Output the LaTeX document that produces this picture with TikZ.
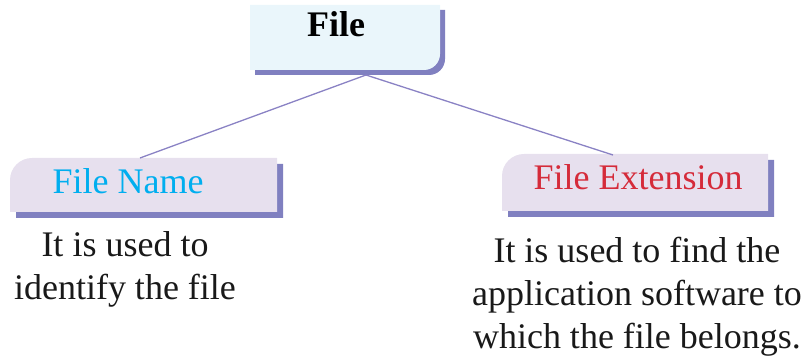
\documentclass[tikz,border=0pt]{standalone}
\usepackage{fontspec}
\setmainfont{Liberation Serif}
\usepackage{xcolor}
\usepackage{tikz}
\usetikzlibrary{calc,positioning}

\definecolor{topfill}{HTML}{EAF6FB}
\definecolor{subfill}{HTML}{E7E0EE}
\definecolor{dropcol}{HTML}{8080C0}
\definecolor{link}{HTML}{8A82C4}
\definecolor{namecol}{HTML}{00AEEF}
\definecolor{extcol}{HTML}{D52B3A}

\begin{document}
\begin{tikzpicture}[
    x=1pt,y=1pt,
    big/.style={font=\fontsize{36}{43}\selectfont,inner sep=0pt},
    head/.style={big,anchor=base},
    note/.style={big,align=center,anchor=north,text=black!90}
  ]
  \useasboundingbox (0,0) rectangle (811,358);
  % File box and its shadow
  \foreach \dx/\dy/\col in {5/-5/dropcol,0/0/topfill}
  \fill [\col,shift={(\dx,\dy)}] (250,353) -- (440,353) -- (440,304)
    arc [start angle=0,end angle=-90,radius=16] -- (250,288) -- cycle;
  % the two lower boxes
  \foreach \dx/\dy/\col in {6/-6/dropcol,0/0/subfill} {
    \fill [\col,shift={(\dx,\dy)}] (10,146) -- (277,146) -- (277,200) -- (32,200)
      arc [start angle=90,end angle=180,radius=22] -- cycle;
    \fill [\col,shift={(\dx,\dy)}] (502,147) -- (768,147) -- (768,204) -- (524,204)
      arc [start angle=90,end angle=180,radius=22] -- cycle;
  }
  \coordinate (fileB) at (366,283);
  \coordinate (nameT) at (140,200);
  \coordinate (extT) at (613,203);
  \draw [link,line width=1.3pt] (nameT) -- (fileB) -- (extT);
  \node [head,font=\bfseries\fontsize{36}{43}\selectfont] (file) at (336,321) {File};
  \node [head,text=namecol] (name) at (128,164) {File Name};
  \node [head,text=extcol] (ext) at (638,168) {File Extension};
  \node [note] (nameNote) at (125,127) {It is used to\\identify the file};
  \node [note] (extNote) at (637,121) {It is used to find the\\application software to\\which the file belongs.};
\end{tikzpicture}
\end{document}
